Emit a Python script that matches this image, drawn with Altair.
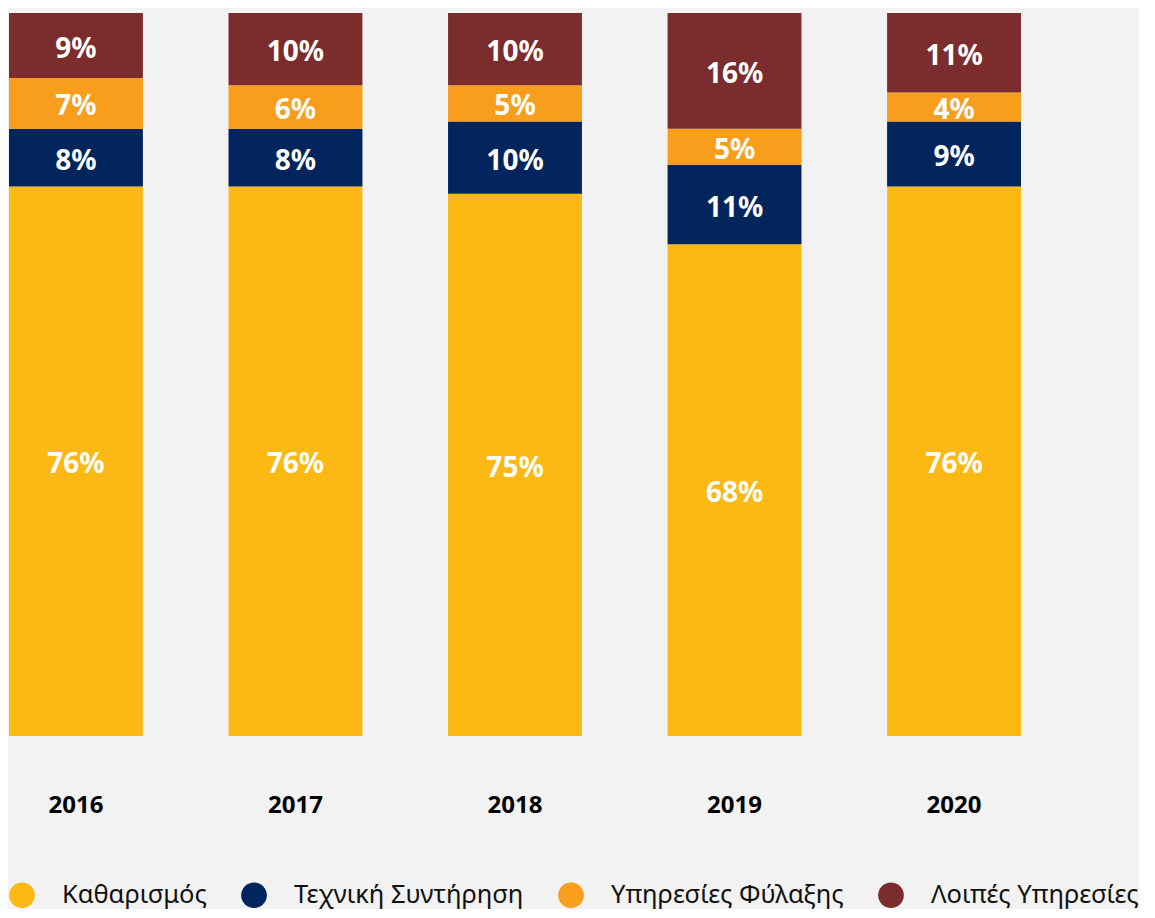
import altair as alt
import pandas as pd

years = ["2016", "2017", "2018", "2019", "2020"]
categories = ["Καθαρισμός", "Τεχνική Συντήρηση", "Υπηρεσίες Φύλαξης", "Λοιπές Υπηρεσίες"]
colors = ["#FDB913", "#03255E", "#F99D1C", "#7B2C2D"]
cleaning = [76, 76, 75, 68, 76]
maintenance = [8, 8, 10, 11, 9]
security = [7, 6, 5, 5, 4]
other = [9, 10, 10, 16, 11]

series = [cleaning, maintenance, security, other]
rows = []
for ci, (cat, vals) in enumerate(zip(categories, series)):
    for y, v in zip(years, vals):
        rows.append({"year": y, "category": cat, "value": v, "ord": ci})
df = pd.DataFrame(rows)

base = alt.Chart(df).transform_stack(
    stack="value", as_=["y0", "y1"], groupby=["year"], sort=[alt.SortField("ord", order="ascending")]
).transform_calculate(
    mid="(datum.y0 + datum.y1) / 2", label="datum.value + '%'"
)

x = alt.X("year:N", title=None,
          scale=alt.Scale(paddingInner=0.39, paddingOuter=0),
          axis=alt.Axis(labelAngle=0, domain=False, ticks=False, labelPadding=57,
                        labelFont="Noto Sans", labelFontSize=24, labelFontWeight="bold",
                        labelColor="#000000"))

bars = base.mark_bar().encode(
    x=x,
    y=alt.Y("y0:Q", scale=alt.Scale(domain=[0, 100]), axis=None),
    y2="y1:Q",
    color=alt.Color("category:N", scale=alt.Scale(domain=categories, range=colors),
                    legend=alt.Legend(title=None, orient="none", legendX=0, legendY=869,
                                      direction="horizontal", symbolType="circle",
                                      symbolSize=660, symbolStrokeWidth=0,
                                      labelFont="Noto Sans", labelFontSize=25.5,
                                      labelColor="#111111", labelOffset=27,
                                      columnPadding=34, labelLimit=400)),
)

texts = base.mark_text(font="Noto Sans", fontSize=28, fontWeight="bold", color="white",
                       baseline="middle", dy=4).encode(
    x=alt.X("year:N"),
    y=alt.Y("mid:Q"),
    text="label:N",
)

chart = alt.layer(bars, texts).properties(
    width=1012, height=723, background="#F2F2F2",
    padding={"left": 1, "top": 5, "right": 0, "bottom": 0},
).configure_view(stroke=None)

chart.save("out.html", embed_options={"renderer": "svg", "actions": False})
